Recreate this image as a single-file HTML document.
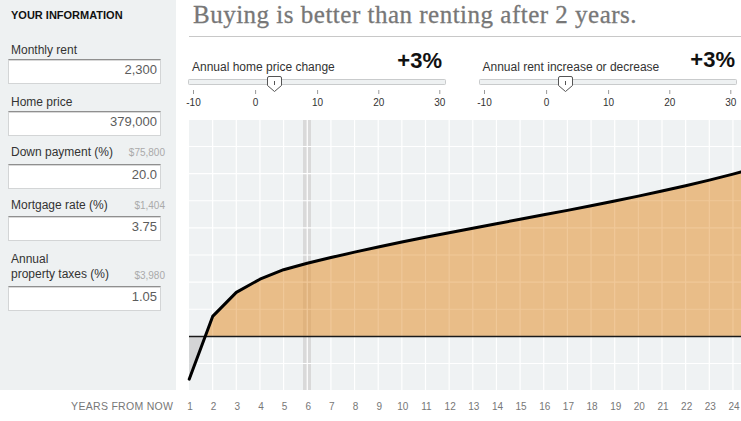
<!DOCTYPE html>
<html><head><meta charset="utf-8">
<style>
html,body{margin:0;padding:0;background:#fff;width:741px;height:421px;overflow:hidden;}
body{position:relative;font-family:"Liberation Sans",sans-serif;}
.side{position:absolute;left:0;top:0;width:176px;height:390px;background:#eef1f2;}
.hd{position:absolute;left:11px;top:9px;font-size:11px;font-weight:bold;color:#111;line-height:13px;white-space:nowrap;}
.lb{position:absolute;left:11px;font-size:12px;color:#333;line-height:15px;white-space:nowrap;}
.sm{position:absolute;left:105px;width:60px;text-align:right;font-size:10px;color:#aaa;line-height:12px;white-space:nowrap;}
.in{position:absolute;left:8px;width:151px;height:23px;background:#fff;border:1px solid #d3d5d6;border-top:1px solid #8f8f8f;box-shadow:inset 0 1px 0 #d8d8d8;box-sizing:content-box;}
.in span{position:absolute;right:3px;top:1.5px;font-size:13px;line-height:15px;color:#5c5c5c;}
.title{position:absolute;left:193px;top:0px;font-family:"Liberation Serif",serif;font-size:25px;letter-spacing:0.5px;-webkit-text-stroke:0.3px #777;color:#777;white-space:nowrap;line-height:30px;}
.sep{position:absolute;left:189px;top:36px;width:552px;height:1px;background:#c8c8c8;}
svg{position:absolute;left:0;top:0;}
svg text{font-family:"Liberation Sans",sans-serif;}
.tk{font-size:10px;fill:#333;}
.yl{font-size:10px;fill:#777;}
</style></head><body>
<div class="side"></div>
<div class="hd">YOUR INFORMATION</div>
<div class="lb" style="top:43px">Monthly rent</div>
<div class="in" style="top:59px"><span>2,300</span></div>
<div class="lb" style="top:95px">Home price</div>
<div class="in" style="top:111px"><span>379,000</span></div>
<div class="lb" style="top:145px">Down payment (%)</div>
<div class="sm" style="top:147px">$75,800</div>
<div class="in" style="top:164px"><span>20.0</span></div>
<div class="lb" style="top:198px">Mortgage rate (%)</div>
<div class="sm" style="top:200px">$1,404</div>
<div class="in" style="top:216px"><span>3.75</span></div>
<div class="lb" style="top:252px">Annual<br>property taxes (%)</div>
<div class="sm" style="top:270px">$3,980</div>
<div class="in" style="top:286px"><span>1.05</span></div>
<div class="title">Buying is better than renting after 2 years.</div>
<div class="sep"></div>
<svg width="741" height="421" viewBox="0 0 741 421">
<rect x="189" y="120" width="552" height="270" fill="#eff2f3"/>
<rect x="303" y="120" width="8" height="270" fill="#d9d9d9"/>
<path d="M212.65,120V390M236.30,120V390M259.95,120V390M283.60,120V390M307.25,120V390M330.90,120V390M354.55,120V390M378.20,120V390M401.85,120V390M425.50,120V390M449.15,120V390M472.80,120V390M496.45,120V390M520.10,120V390M543.75,120V390M567.40,120V390M591.05,120V390M614.70,120V390M638.35,120V390M662.00,120V390M685.65,120V390M709.30,120V390M732.95,120V390M189,146.500H741M189,173.625H741M189,200.750H741M189,227.875H741M189,255.000H741M189,282.125H741M189,309.250H741M189,336.375H741M189,363.500H741" stroke="#ffffff" stroke-width="1.2" fill="none"/>
<path d="M189,336.5 L189.2,379.2 L205.14,336.5 Z" fill="#d4d5d6"/>
<path d="M205.14,336.5 L212.65,316.40 L236.30,292.40 L259.95,279.20 L283.60,269.70 L307.25,263.26 L330.90,257.57 L354.55,252.16 L378.20,247.01 L401.85,242.07 L425.50,237.31 L449.15,232.70 L472.80,228.18 L496.45,223.72 L520.10,219.29 L543.75,214.84 L567.40,210.35 L591.05,205.76 L614.70,201.04 L638.35,196.15 L662.00,191.06 L685.65,185.73 L709.30,180.11 L732.95,174.17 L741.00,172.07 L741,336.5 Z" fill="#e59a41" fill-opacity="0.6"/>
<path d="M212.65,120V390M236.30,120V390M259.95,120V390M283.60,120V390M307.25,120V390M330.90,120V390M354.55,120V390M378.20,120V390M401.85,120V390M425.50,120V390M449.15,120V390M472.80,120V390M496.45,120V390M520.10,120V390M543.75,120V390M567.40,120V390M591.05,120V390M614.70,120V390M638.35,120V390M662.00,120V390M685.65,120V390M709.30,120V390M732.95,120V390M189,146.500H741M189,173.625H741M189,200.750H741M189,227.875H741M189,255.000H741M189,282.125H741M189,309.250H741M189,336.375H741M189,363.500H741" stroke="#ffffff" stroke-width="1.2" fill="none" opacity="0.1"/>
<line x1="189" y1="336.5" x2="741" y2="336.5" stroke="#1a1a1a" stroke-width="1.4"/>
<path d="M189.20,379.20 L212.65,316.40 L236.30,292.40 L259.95,279.20 L283.60,269.70 L307.25,263.26 L330.90,257.57 L354.55,252.16 L378.20,247.01 L401.85,242.07 L425.50,237.31 L449.15,232.70 L472.80,228.18 L496.45,223.72 L520.10,219.29 L543.75,214.84 L567.40,210.35 L591.05,205.76 L614.70,201.04 L638.35,196.15 L662.00,191.06 L685.65,185.73 L709.30,180.11 L732.95,174.17 L741.00,172.07" stroke="#000" stroke-width="3" fill="none" stroke-linejoin="round" stroke-linecap="round"/>
<g class="yl"><text x="190.00" y="410" text-anchor="middle">1</text><text x="213.65" y="410" text-anchor="middle">2</text><text x="237.30" y="410" text-anchor="middle">3</text><text x="260.95" y="410" text-anchor="middle">4</text><text x="284.60" y="410" text-anchor="middle">5</text><text x="308.25" y="410" text-anchor="middle">6</text><text x="331.90" y="410" text-anchor="middle">7</text><text x="355.55" y="410" text-anchor="middle">8</text><text x="379.20" y="410" text-anchor="middle">9</text><text x="402.85" y="410" text-anchor="middle">10</text><text x="426.50" y="410" text-anchor="middle">11</text><text x="450.15" y="410" text-anchor="middle">12</text><text x="473.80" y="410" text-anchor="middle">13</text><text x="497.45" y="410" text-anchor="middle">14</text><text x="521.10" y="410" text-anchor="middle">15</text><text x="544.75" y="410" text-anchor="middle">16</text><text x="568.40" y="410" text-anchor="middle">17</text><text x="592.05" y="410" text-anchor="middle">18</text><text x="615.70" y="410" text-anchor="middle">19</text><text x="639.35" y="410" text-anchor="middle">20</text><text x="663.00" y="410" text-anchor="middle">21</text><text x="686.65" y="410" text-anchor="middle">22</text><text x="710.30" y="410" text-anchor="middle">23</text><text x="733.95" y="410" text-anchor="middle">24</text></g>
<text x="173.3" y="409.5" text-anchor="end" class="yl" style="letter-spacing:0.3px;font-size:10.5px">YEARS FROM NOW</text>
<text x="192" y="70.5" style="font-size:12px" fill="#333">Annual home price change</text>
<text x="442" y="68" text-anchor="end" style="font-size:22px;font-weight:bold" fill="#111">+3%</text>
<text x="482.5" y="70.5" style="font-size:12px" fill="#333">Annual rent increase or decrease</text>
<text x="735" y="67" text-anchor="end" style="font-size:22px;font-weight:bold" fill="#111">+3%</text>
<rect x="188.5" y="79.5" width="257" height="5" rx="0.8" fill="#eef1f2" stroke="#c9cbcc" stroke-width="1"/><line x1="193.5" y1="90" x2="193.5" y2="94" stroke="#999" stroke-width="1"/><text x="193.5" y="106" text-anchor="middle" class="tk">-10</text><line x1="255.6" y1="90" x2="255.6" y2="94" stroke="#999" stroke-width="1"/><text x="255.6" y="106" text-anchor="middle" class="tk">0</text><line x1="317.6" y1="90" x2="317.6" y2="94" stroke="#999" stroke-width="1"/><text x="317.6" y="106" text-anchor="middle" class="tk">10</text><line x1="378.8" y1="90" x2="378.8" y2="94" stroke="#999" stroke-width="1"/><text x="378.8" y="106" text-anchor="middle" class="tk">20</text><line x1="439.8" y1="90" x2="439.8" y2="94" stroke="#999" stroke-width="1"/><text x="439.8" y="106" text-anchor="middle" class="tk">30</text><path d="M267.5,78 Q267.5,76.5 269.0,76.5 H280.0 Q281.5,76.5 281.5,78 V85.5 L274.5,91.5 L267.5,85.5 Z" fill="#fff" stroke="#555" stroke-width="1"/><line x1="274.5" y1="81" x2="274.5" y2="85" stroke="#555" stroke-width="1"/>
<rect x="479.5" y="79.5" width="257" height="5" rx="0.8" fill="#eef1f2" stroke="#c9cbcc" stroke-width="1"/><line x1="484.5" y1="90" x2="484.5" y2="94" stroke="#999" stroke-width="1"/><text x="484.5" y="106" text-anchor="middle" class="tk">-10</text><line x1="546.6" y1="90" x2="546.6" y2="94" stroke="#999" stroke-width="1"/><text x="546.6" y="106" text-anchor="middle" class="tk">0</text><line x1="608.6" y1="90" x2="608.6" y2="94" stroke="#999" stroke-width="1"/><text x="608.6" y="106" text-anchor="middle" class="tk">10</text><line x1="669.8" y1="90" x2="669.8" y2="94" stroke="#999" stroke-width="1"/><text x="669.8" y="106" text-anchor="middle" class="tk">20</text><line x1="730.8" y1="90" x2="730.8" y2="94" stroke="#999" stroke-width="1"/><text x="730.8" y="106" text-anchor="middle" class="tk">30</text><path d="M558.5,78 Q558.5,76.5 560.0,76.5 H571.0 Q572.5,76.5 572.5,78 V85.5 L565.5,91.5 L558.5,85.5 Z" fill="#fff" stroke="#555" stroke-width="1"/><line x1="565.5" y1="81" x2="565.5" y2="85" stroke="#555" stroke-width="1"/>
</svg>
</body></html>
